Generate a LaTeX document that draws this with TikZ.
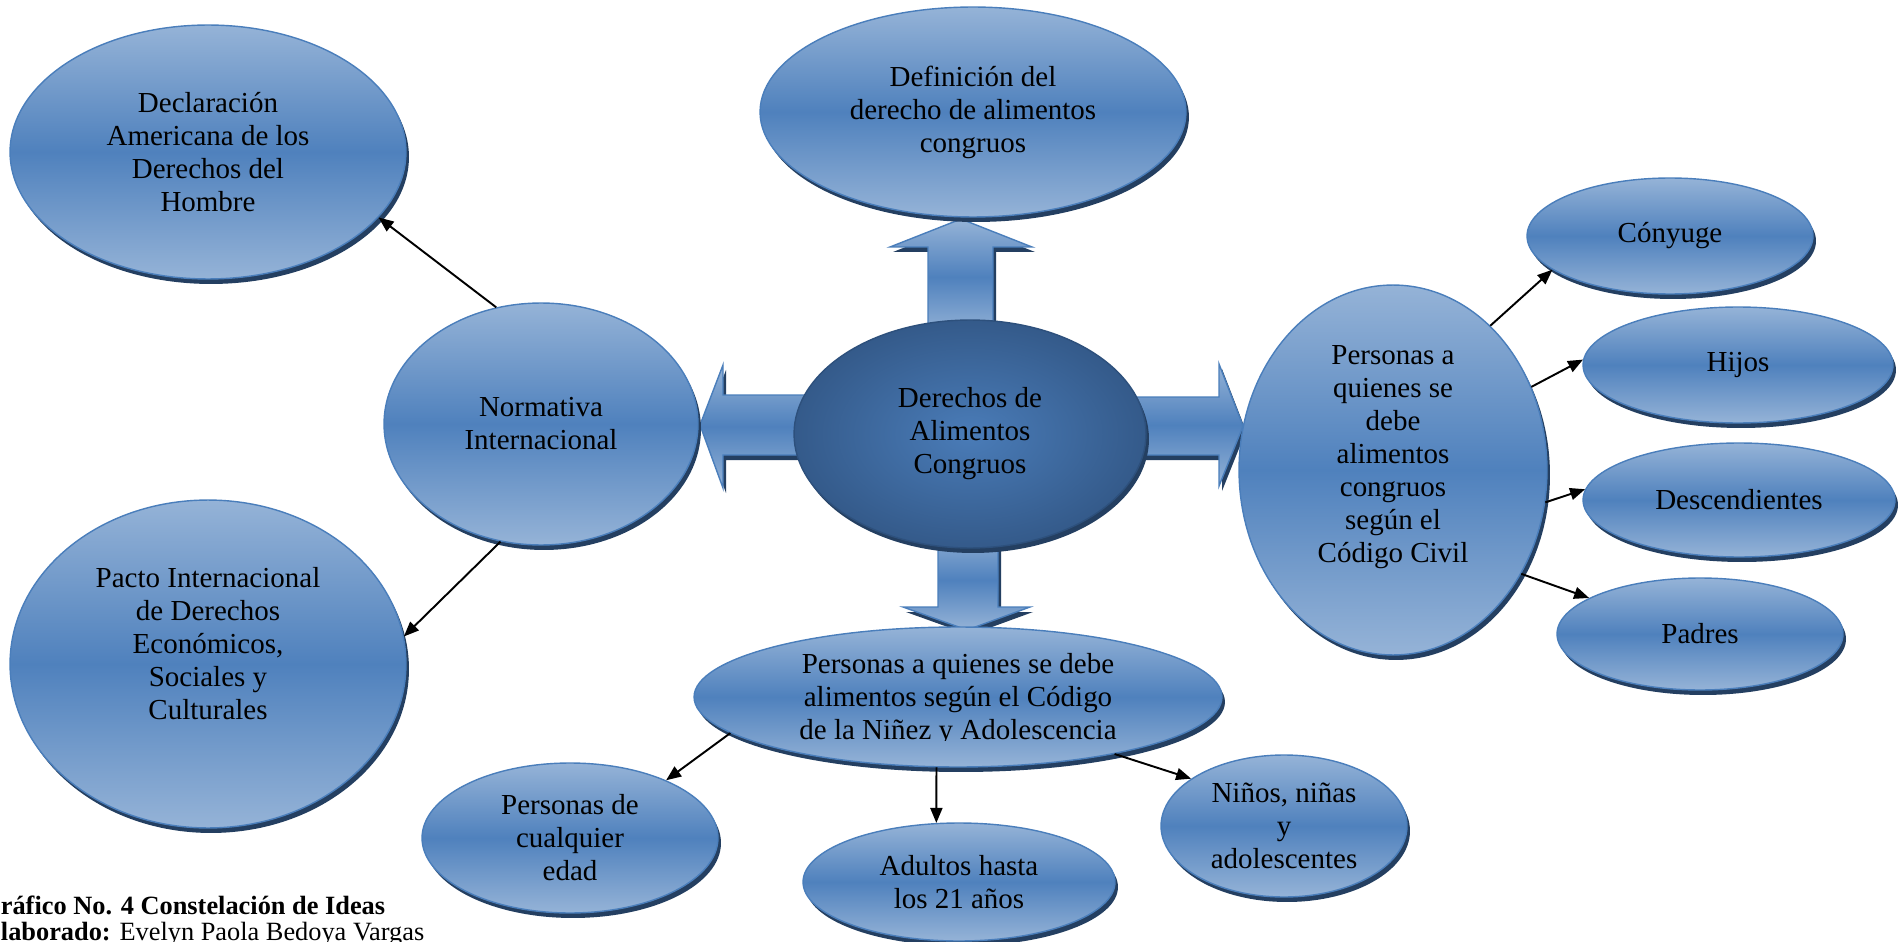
\documentclass[tikz,border=0pt]{standalone}
\usepackage{fontspec}
\setmainfont{Liberation Serif}
\usetikzlibrary{shapes.geometric, shadows, arrows.meta}

\definecolor{bubblelight}{RGB}{149,179,215}
\definecolor{bubbledark}{RGB}{79,129,189}
\definecolor{bubbleedge}{RGB}{74,126,187}
\definecolor{shadowblue}{RGB}{36,63,97}
\definecolor{hubinner}{RGB}{74,124,184}
\definecolor{hubouter}{RGB}{52,90,138}
\definecolor{hubedge}{RGB}{45,80,124}

\begin{document}
\begin{tikzpicture}[
  x=0.02cm, y=-0.02cm,
  bubble/.style={ellipse, draw=bubbleedge, line width=0.8pt, inner sep=0pt,
    top color=bubblelight, bottom color=bubblelight, middle color=bubbledark,
    drop shadow={shadow xshift=0.06cm, shadow yshift=-0.1cm, fill=shadowblue, opacity=1},
    font=\fontsize{16.5}{18.8}\selectfont, align=center},
  hub/.style={bubble, draw=hubedge, inner color=hubinner, outer color=hubouter},
  bubble text/.style={inner sep=0pt, font=\fontsize{16.5}{18.8}\selectfont, align=center},
  fat arrow/.style={draw=bubbleedge, line width=0.8pt,
    top color=bubblelight, bottom color=bubblelight, middle color=bubbledark,
    drop shadow={shadow xshift=0.06cm, shadow yshift=-0.1cm, fill=shadowblue, opacity=1}},
  link/.style={-{Triangle[length=0.3cm, width=0.24cm]}, line width=1.1pt},
  caption/.style={anchor=base west, inner sep=0pt, font=\fontsize{15}{15}\selectfont}
]
  % page frame, same proportions as the original figure
  \useasboundingbox (0,0) rectangle (1902,942);
  \fill[white] (0,0) rectangle (1902,942);

  % Four block arrows leaving the central idea (drawn first, the ellipses cover their ends)
  \path[fat arrow] (820,395) -- (723,395) -- (723,365) -- (700,425)
    -- (723,488) -- (723,455) -- (820,455) -- cycle;
  \path[fat arrow] (1125,397) -- (1219,397) -- (1219,364) -- (1243,426)
    -- (1219,486) -- (1219,455) -- (1125,455) -- cycle;
  \path[fat arrow] (928,335) -- (928,247) -- (890,247) -- (961,219)
    -- (1032,247) -- (993,247) -- (993,335) -- cycle;
  \path[fat arrow] (938,530) -- (938,607) -- (903,607) -- (967,630)
    -- (1030,607) -- (998,607) -- (998,530) -- cycle;

  % Central idea
  \node[hub, minimum width=7.04cm, minimum height=4.56cm] (cent) at (970,434)
    {Derechos de\\Alimentos\\Congruos};

  % Upper and left branch
  \node[bubble, minimum width=8.52cm, minimum height=4.2cm] (defi) at (973,112)
    {Definición del\\derecho de alimentos\\congruos};
  \node[bubble, minimum width=6.28cm, minimum height=4.84cm] (norm) at (541,424)
    {Normativa\\Internacional};
  \node[bubble, minimum width=7.92cm, minimum height=5.08cm] (decl) at (208,152)
    {Declaración\\Americana de los\\Derechos del\\Hombre};
  \node[bubble, minimum width=7.92cm, minimum height=6.56cm] (pacto) at (208,664) {};
  \node[bubble text] (pacto-t) at (208,644)
    {Pacto Internacional\\de Derechos\\Económicos,\\Sociales y\\Culturales};

  % Right branch: Código Civil
  \node[bubble, minimum width=6.16cm, minimum height=7.4cm] (pcc) at (1393,470) {};
  \node[bubble text] (pcc-t) at (1393,457)
    {Personas a\\quienes se\\debe\\alimentos\\congruos\\según el\\Código Civil};
  \node[bubble, minimum width=5.72cm, minimum height=2.32cm] (cony) at (1670,236) {Cónyuge};
  \node[bubble, minimum width=6.2cm, minimum height=2.32cm] (hijos) at (1738,365) {Hijos};
  \node[bubble, minimum width=6.24cm, minimum height=2.28cm] (desc) at (1739,500) {Descendientes};
  \node[bubble, minimum width=5.72cm, minimum height=2.24cm] (padres) at (1700,634) {Padres};

  % Lower branch: Código de la Niñez y Adolescencia
  \node[bubble, minimum width=10.56cm, minimum height=2.8cm] (cna) at (958,697) {};
  \begin{scope}
    \clip (680,640) rectangle (1240,740);
    \node[bubble text] (cna-t) at (958,700)
      {Personas a quienes se debe\\alimentos según el Código\\de la Niñez y Adolescencia};
  \end{scope}
  \node[bubble, minimum width=5.92cm, minimum height=3cm] (edad) at (570,838)
    {Personas de\\cualquier\\edad};
  \node[bubble, minimum width=6.24cm, minimum height=2.36cm] (adul) at (959,882)
    {Adultos hasta\\los 21 años};
  \node[bubble, minimum width=4.92cm, minimum height=2.84cm] (ninos) at (1284,826)
    {Niños, niñas\\y\\adolescentes};

  % Thin connectors
  \draw[link] (norm.111.6) -- (decl.-21);
  \draw[link] (norm.-109) -- (pacto.8);
  \draw[link] (pcc.56) -- (cony.-164);
  \draw[link] (pcc.31) -- (hijos.178);
  \draw[link] (pcc.-12) -- (desc.176);
  \draw[link] (pcc.-39) -- (padres.162);
  \draw[link] (cna.-171) -- (edad.31);
  \draw[link] (cna.-107.4) -- (adul.111.3);
  \draw[link] (cna.-20) -- (ninos.153);

  % Caption, cut by the page edge as in the source
  \node[caption, font=\fontsize{15}{15}\selectfont\bfseries] (cap) at (-20,914)
    {Gráfico No. 4 Constelación de Ideas};
  \node[caption] (autor) at (-17,940)
    {\textbf{Elaborado:} Evelyn Paola Bedoya Vargas};

\end{tikzpicture}
\end{document}
